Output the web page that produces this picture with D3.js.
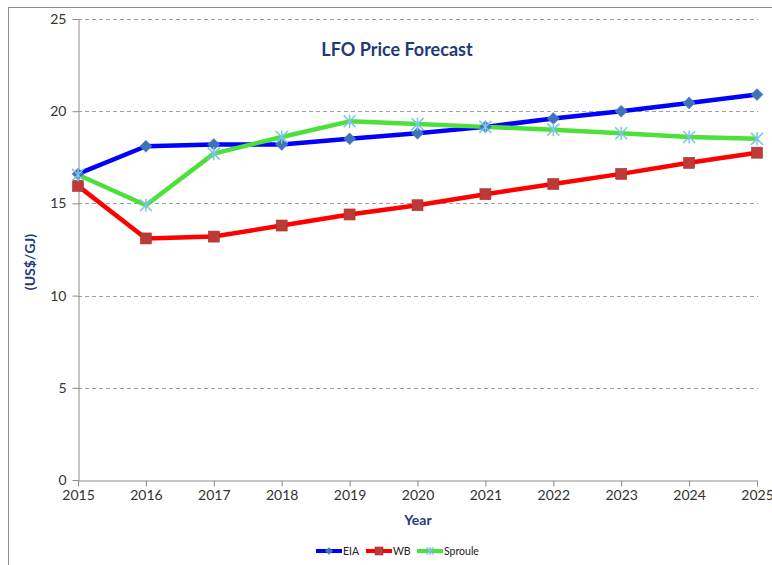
<!DOCTYPE html>
<html><head><meta charset="utf-8">
<script src="https://cdn.jsdelivr.net/npm/d3@7"></script>
<style>body{margin:0;background:#fff;}svg{display:block;}</style>
</head><body>
<svg id="chart" width="772" height="565"></svg>
<script>
const years = [2015,2016,2017,2018,2019,2020,2021,2022,2023,2024,2025];
const eia = [16.6,18.1,18.2,18.2,18.5,18.8,19.15,19.6,20.0,20.45,20.9];
const wb = [15.95,13.1,13.2,13.8,14.4,14.9,15.5,16.05,16.6,17.2,17.75];
const sproule = [16.55,14.9,17.7,18.6,19.45,19.3,19.15,19.0,18.8,18.6,18.5];
const yTicks = [0,5,10,15,20,25];
const seriesNames = ["EIA","WB","Sproule"];

const svg = d3.select("#chart");
const font = "Lato, 'Open Sans', sans-serif";
const navy = "#1F3A78";

// outer border
svg.append("rect").attr("x",8.5).attr("y",7.5).attr("width",780).attr("height",580)
  .attr("fill","none").attr("stroke","#8c8c8c").attr("stroke-width",1);

const x = d3.scaleLinear().domain([2015,2025]).range([78,757]);
const y = d3.scaleLinear().domain([0,25]).range([480,19]);

// gridlines
svg.append("g").selectAll("line").data(yTicks.filter(d=>d>0)).join("line")
  .attr("x1",78).attr("x2",758).attr("y1",d=>Math.round(y(d))+0.5).attr("y2",d=>Math.round(y(d))+0.5)
  .attr("stroke","#a0a0a0").attr("stroke-dasharray","4,3").attr("stroke-width",1);

// y axis
const yAxis = svg.append("g").attr("transform","translate(78.5,0)")
  .call(d3.axisLeft(y).tickValues(yTicks).tickSize(6).tickSizeOuter(0).tickPadding(6));
yAxis.select(".domain").attr("stroke","#8c8c8c");
yAxis.selectAll(".tick line").attr("stroke","#8c8c8c");
yAxis.selectAll("text").attr("font-family",font).attr("font-size",14).attr("fill","#333");

// x axis
const xAxis = svg.append("g").attr("transform","translate(0,480.5)")
  .call(d3.axisBottom(x).tickValues(years).tickFormat(d3.format("d")).tickSize(6).tickSizeOuter(0).tickPadding(4));
xAxis.select(".domain").attr("stroke","#8c8c8c");
xAxis.selectAll(".tick line").attr("stroke","#8c8c8c");
xAxis.selectAll("text").attr("font-family",font).attr("font-size",14).attr("fill","#333");

// title & axis labels
svg.append("text").attr("x",397).attr("y",56).attr("text-anchor","middle")
  .attr("font-family",font).attr("font-weight","bold").attr("font-size",18).attr("fill",navy)
  .text("LFO Price Forecast");
svg.append("text").attr("x",418).attr("y",525).attr("text-anchor","middle")
  .attr("font-family",font).attr("font-weight","bold").attr("font-size",14).attr("fill",navy)
  .text("Year");
svg.append("text").attr("transform","translate(35,262) rotate(-90)").attr("text-anchor","middle")
  .attr("font-family",font).attr("font-weight","bold").attr("font-size",14).attr("fill",navy)
  .text("(US$/GJ)");

const series = [
  {name:seriesNames[0], vals:eia, color:"#0000FF", marker:"diamond", mcolor:"#3F72B8"},
  {name:seriesNames[1], vals:wb, color:"#FF0000", marker:"square", mcolor:"#BE3A36"},
  {name:seriesNames[2], vals:sproule, color:"#4CE03A", marker:"star", mcolor:"#7EC3EA"}
];

const line = d3.line().x((d,i)=>x(years[i])).y(d=>y(d));

function drawMarker(g, type, mcolor, cx, cy, s){
  if(type==="diamond"){
    g.append("path").attr("d",`M${cx},${cy-s}L${cx+s},${cy}L${cx},${cy+s}L${cx-s},${cy}Z`)
      .attr("fill",mcolor).attr("stroke","#5a88c8").attr("stroke-width",0.6);
  } else if(type==="square"){
    g.append("rect").attr("x",cx-s).attr("y",cy-s).attr("width",2*s).attr("height",2*s)
      .attr("fill",mcolor).attr("stroke","#a83030").attr("stroke-width",0.6);
  } else {
    const p = `M${cx-s},${cy-s}L${cx+s},${cy+s}M${cx-s},${cy+s}L${cx+s},${cy-s}M${cx},${cy-s*1.1}L${cx},${cy+s*1.1}`;
    g.append("path").attr("d",p).attr("stroke",mcolor).attr("stroke-width",1.5).attr("fill","none");
  }
}

const msize = {diamond:6, square:5.5, star:6};
series.forEach(s=>{
  svg.append("path").datum(s.vals).attr("d",line).attr("fill","none")
    .attr("stroke",s.color).attr("stroke-width",4.5).attr("stroke-linejoin","round");
});
series.forEach(s=>{
  const g = svg.append("g");
  s.vals.forEach((v,i)=>drawMarker(g,s.marker,s.mcolor,x(years[i]),y(v),msize[s.marker]));
});

// legend
const legX = [316,366,417];
series.forEach((s,i)=>{
  const g = svg.append("g");
  const lx = legX[i], ly = 551;
  g.append("line").attr("x1",lx).attr("x2",lx+26).attr("y1",ly).attr("y2",ly)
    .attr("stroke",s.color).attr("stroke-width",4);
  drawMarker(g,s.marker,s.mcolor,lx+13,ly,s.marker==="square"?4:3.5);
  g.append("text").attr("x",lx+27).attr("y",ly+3.5).attr("font-family",font).attr("font-size",10.5)
    .attr("fill","#222").text(s.name);
});
</script>
</body></html>
